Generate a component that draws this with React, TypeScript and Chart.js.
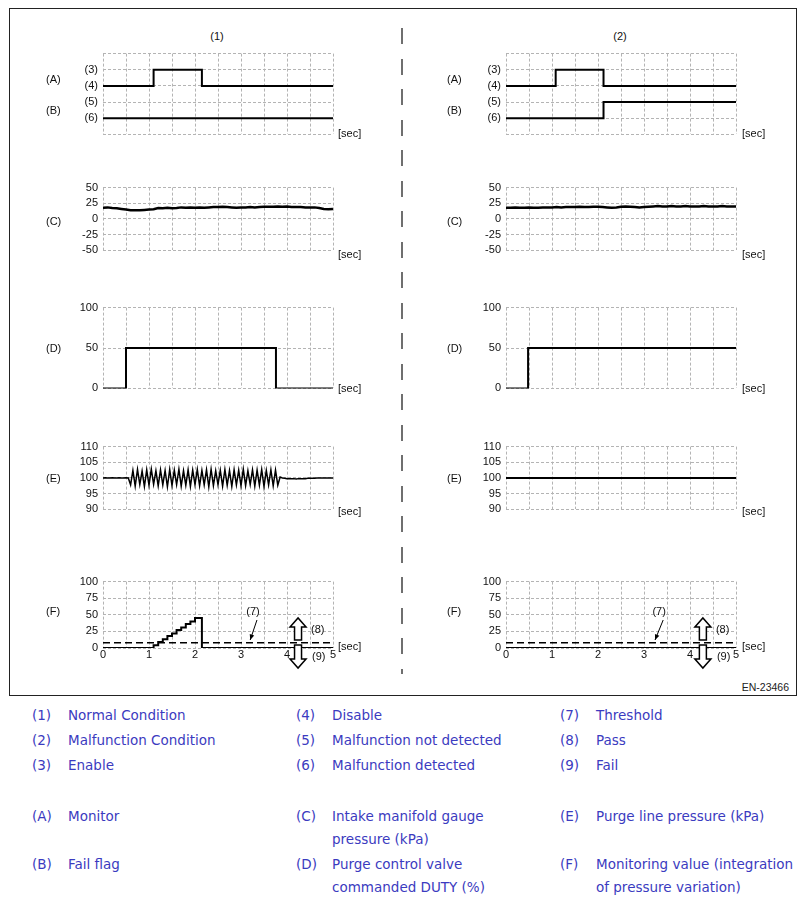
import React, { useEffect, useRef } from 'react';
import { Chart, registerables } from 'chart.js';

Chart.register(...registerables);

// ---------- DATA ----------
const AB_LEVEL_LABELS = ['', '(6)', '(5)', '(4)', '(3)', ''];

// (A) Monitor / (B) Fail flag — time [sec] and level
const L_MONITOR_T = [0, 1.1, 2.15, 5];
const L_MONITOR_V = [3, 4, 3, 3];
const L_FAIL_T = [0, 5];
const L_FAIL_V = [1, 1];
const R_MONITOR_T = [0, 1.08, 2.12, 5];
const R_MONITOR_V = [3, 4, 3, 3];
const R_FAIL_T = [0, 2.12, 5];
const R_FAIL_V = [1, 2, 2];

// (C) Intake manifold gauge pressure (kPa), sampled every 0.1 s
const C_STEP = 0.1;
const L_MANIFOLD = [
  18, 18.5, 17.5, 17, 16, 15, 14, 14, 14, 14.5,
  15, 15.5, 17.5, 17, 18, 17, 17.5, 18.5, 18, 18.5,
  18, 18.5, 18, 18.5, 19, 19, 19.5, 19, 18.5, 18,
  18.5, 18.5, 19, 18.5, 19, 19.5, 19.5, 19.5, 20, 19.5,
  20, 19, 19, 19, 18.5, 18.5, 18.5, 17.5, 16, 15.5, 16,
];
const R_MANIFOLD = [
  18, 18, 18.5, 18, 18, 18.5, 18, 18, 18.5, 18.5,
  18.5, 19, 18.5, 19, 19, 19, 19.5, 19, 19, 19.5,
  19.5, 19, 18.5, 18, 18.5, 19.5, 20, 19.5, 19, 18.5,
  19, 19.5, 20, 20.5, 20, 20, 20.5, 20, 20, 20.5,
  20, 20, 20, 20.5, 20, 20, 20, 20.5, 20, 20, 20,
];

// (D) Purge control valve commanded DUTY (%)
const L_DUTY_T = [0, 0.5, 3.76, 5];
const L_DUTY_V = [0, 50, 0, 0];
const R_DUTY_T = [0, 0.48, 5];
const R_DUTY_V = [0, 50, 50];

// (E) Purge line pressure (kPa), sampled every 0.05 s
const E_STEP = 0.05;
const L_PURGE = [
  100, 100.1, 100, 100, 100.1, 100, 100, 100.1, 100, 100, 100.1, 100,
  97.8, 102.4, 97.4, 102.7, 97.9, 102.2, 97.3, 102.6, 97.7, 102.8,
  98.0, 102.3, 97.5, 102.6, 97.8, 102.4, 97.2, 102.7, 97.6, 102.5,
  97.9, 102.8, 97.4, 102.3, 97.7, 102.6, 97.3, 102.5, 97.9, 102.7,
  97.5, 102.4, 97.8, 102.6, 97.2, 102.8, 97.6, 102.3, 97.9, 102.5,
  97.4, 102.7, 97.7, 102.4, 97.3, 102.6, 97.8, 102.5, 97.5, 102.8,
  97.6, 102.3, 97.9, 102.6, 97.4, 102.5, 97.7, 102.7, 97.3, 102.4,
  97.8, 102.6, 97.5, 102.5, 97.7,
  100.3, 100.0,
  99.9, 99.8, 99.8, 99.8, 99.8, 99.7, 99.8, 99.8, 99.8, 99.8, 99.9,
  99.9, 99.9, 99.9, 100, 100, 100, 100, 100, 100, 100, 100,
];
const R_PURGE_T = [0, 5];
const R_PURGE_V = [100, 100];

// (F) Monitoring value (integration of pressure variation)
const L_MONVAL_T = [0, 1.1, 1.2, 1.3, 1.4, 1.5, 1.6, 1.7, 1.8, 1.9, 2.0, 2.15, 5];
const L_MONVAL_V = [0, 4, 9, 13, 18, 22, 27, 31, 36, 40, 45, 0, 0];
const R_MONVAL_T = [0, 5];
const R_MONVAL_V = [0, 0];
const THRESHOLD = 8;

const X_TICK_LABELS = ['0', '1', '2', '3', '4', '5'];

// ---------- helpers ----------
// step series: value v[i] holds from t[i] until t[i+1]
const steps = (t: number[], v: number[]) => {
  const out: { x: number; y: number }[] = [];
  t.forEach((x, i) => {
    out.push({ x, y: v[i] });
  });
  return out;
};
const pts = (t: number[], v: number[]) => t.map((x, i) => ({ x, y: v[i] }));
const sampled = (step: number, v: number[]) => v.map((y, i) => ({ x: +(i * step).toFixed(3), y }));

const FONT = '"Liberation Sans", Arial, Helvetica, sans-serif';
const YW = 45;
const PT = 10;
const PR = 14;

function line(data: any[], stepped = false, extra: any = {}) {
  return {
    data,
    borderColor: '#000',
    borderWidth: 2,
    pointRadius: 0,
    tension: 0,
    // 'before' in Chart.js: horizontal at previous value, then vertical at the new point
    stepped: stepped ? 'before' : false,
    fill: false,
    ...extra,
  };
}

function hollowArrow(ctx: CanvasRenderingContext2D, cx: number, baseY: number, tipY: number) {
  const dir = tipY < baseY ? -1 : 1;
  const hl = 9, hh = 8, sh = 3.5;
  const hy = tipY - dir * hl;
  ctx.beginPath();
  ctx.moveTo(cx - sh, baseY);
  ctx.lineTo(cx - sh, hy);
  ctx.lineTo(cx - hh, hy);
  ctx.lineTo(cx, tipY);
  ctx.lineTo(cx + hh, hy);
  ctx.lineTo(cx + sh, hy);
  ctx.lineTo(cx + sh, baseY);
  ctx.closePath();
  ctx.fillStyle = '#fff';
  ctx.fill();
  ctx.stroke();
}

function fAnnotations(arrowSec: number, noteSec: number, noteTipSec: number) {
  return {
    id: 'fAnnot',
    afterDraw(chart: any) {
      const { ctx } = chart;
      const x = chart.scales.x;
      const y = chart.scales.y;
      const y0 = y.getPixelForValue(0);
      const cx = x.getPixelForValue(arrowSec);
      ctx.save();
      ctx.lineWidth = 1.5;
      ctx.strokeStyle = '#000';
      hollowArrow(ctx, cx, y0 - 8, y0 - 30);
      hollowArrow(ctx, cx, y0 - 3, y0 + 20);
      ctx.fillStyle = '#111';
      ctx.font = `11px ${FONT}`;
      ctx.textBaseline = 'middle';
      ctx.textAlign = 'left';
      ctx.fillText('(8)', cx + 13, y0 - 18);
      ctx.fillText('(9)', cx + 14, y0 + 9);
      const nx = x.getPixelForValue(noteSec);
      ctx.textAlign = 'center';
      ctx.fillText('(7)', nx, y0 - 36);
      const tx = x.getPixelForValue(noteTipSec);
      const sx = nx + 4, sy = y0 - 28, ex = tx, ey = y0 - 8;
      ctx.lineWidth = 1;
      ctx.beginPath();
      ctx.moveTo(sx, sy);
      ctx.lineTo(ex, ey);
      ctx.stroke();
      const ang = Math.atan2(ey - sy, ex - sx);
      ctx.fillStyle = '#000';
      ctx.beginPath();
      ctx.moveTo(ex, ey);
      ctx.lineTo(ex - 6 * Math.cos(ang - 0.4), ey - 6 * Math.sin(ang - 0.4));
      ctx.lineTo(ex - 6 * Math.cos(ang + 0.4), ey - 6 * Math.sin(ang + 0.4));
      ctx.closePath();
      ctx.fill();
      ctx.restore();
    },
  };
}

type PanelProps = {
  area: [number, number, number, number];
  yMin: number;
  yMax: number;
  yStep: number;
  yLabel?: (v: number) => string;
  xLabels?: boolean;
  datasets: any[];
  plugins?: any[];
};

function Panel({ area, yMin, yMax, yStep, yLabel, xLabels, datasets, plugins }: PanelProps) {
  const ref = useRef<HTMLCanvasElement>(null);
  const [l, t, r, b] = area;
  const XH = xLabels ? 20 : 0;
  const PB = xLabels ? 6 : 10;
  const width = r - l + YW + PR;
  const height = b - t + PT + XH + PB;

  useEffect(() => {
    if (!ref.current) return;
    const chart = new Chart(ref.current, {
      type: 'line',
      data: { datasets },
      options: {
        responsive: false,
        animation: false,
        events: [],
        layout: { padding: { left: 0, top: PT, right: PR, bottom: PB } },
        plugins: { legend: { display: false }, tooltip: { enabled: false } },
        scales: {
          x: {
            type: 'linear',
            min: 0,
            max: 5,
            afterFit: (s: any) => { s.height = XH; },
            grid: { color: '#b4b4b4', lineWidth: 1, drawTicks: false },
            border: { display: false, dash: [3, 2] },
            ticks: {
              display: !!xLabels,
              stepSize: 0.5,
              autoSkip: false,
              maxRotation: 0,
              padding: 0,
              color: '#111',
              font: { family: FONT, size: 11 },
              callback: (v: any) => {
                const n = Number(v);
                return Number.isInteger(n) ? X_TICK_LABELS[n] : '';
              },
            },
          },
          y: {
            type: 'linear',
            min: yMin,
            max: yMax,
            afterFit: (s: any) => { s.width = YW; },
            grid: { color: '#b4b4b4', lineWidth: 1, drawTicks: false },
            border: { display: false, dash: [3, 2] },
            ticks: {
              stepSize: yStep,
              autoSkip: false,
              padding: 5,
              color: '#111',
              font: { family: FONT, size: 11 },
              callback: (v: any) => (yLabel ? yLabel(Number(v)) : String(v)),
            },
          },
        },
      },
      plugins: plugins || [],
    } as any);
    return () => chart.destroy();
  }, []);

  return (
    <canvas
      ref={ref}
      width={width}
      height={height}
      style={{ position: 'absolute', left: l - YW, top: t - PT, width, height }}
    />
  );
}

const txt = (s: string, x: number, y: number, extra: any = {}) => (
  <span
    key={`${s}-${x}-${y}`}
    style={{
      position: 'absolute',
      left: x,
      top: y - 7,
      lineHeight: '14px',
      fontSize: 11,
      fontFamily: FONT,
      color: '#111',
      whiteSpace: 'nowrap',
      ...extra,
    }}
  >
    {s}
  </span>
);

const LEGEND_ROWS: [number, [string, string][]][] = [
  [715, [['(1)', 'Normal Condition'], ['(4)', 'Disable'], ['(7)', 'Threshold']]],
  [740, [['(2)', 'Malfunction Condition'], ['(5)', 'Malfunction not detected'], ['(8)', 'Pass']]],
  [765, [['(3)', 'Enable'], ['(6)', 'Malfunction detected'], ['(9)', 'Fail']]],
  [816, [['(A)', 'Monitor'], ['(C)', 'Intake manifold gauge\npressure (kPa)'], ['(E)', 'Purge line pressure (kPa)']]],
  [864, [['(B)', 'Fail flag'], ['(D)', 'Purge control valve\ncommanded DUTY (%)'], ['(F)', 'Monitoring value (integration\nof pressure variation)']]],
];
const LEGEND_NUM_X = [32, 296, 560];
const LEGEND_TEXT_X = [68, 332, 596];

export default function App() {
  const LX: [number, number] = [103, 333];
  const RX: [number, number] = [506, 736];
  const rows = {
    ab: [52, 136],
    c: [186, 252],
    d: [306, 390],
    e: [445, 511],
    f: [580, 648],
  };
  const A = (x: [number, number], y: number[]): [number, number, number, number] => [x[0], y[0], x[1], y[1]];
  const labY = { a: 79, b: 110, c: 221, d: 348, e: 478, f: 611 };
  const secY = [133, 254, 388, 511, 646];
  const legendColor = '#3b3bc0';

  return (
    <div style={{ position: 'absolute', left: 0, top: 0, width: 805, height: 904, background: '#fff', overflow: 'hidden' }}>
      <div style={{ position: 'absolute', left: 9, top: 8, width: 788, height: 688, border: '1px solid #222', boxSizing: 'border-box' }} />
      <div
        style={{
          position: 'absolute', left: 401, top: 28, width: 2, height: 646,
          background: 'repeating-linear-gradient(to bottom, #6f6f6f 0px, #6f6f6f 16px, transparent 16px, transparent 30.5px)',
        }}
      />
      {txt('(1)', 217, 36, { transform: 'translateX(-50%)' })}
      {txt('(2)', 620, 36, { transform: 'translateX(-50%)' })}

      {/* Left column */}
      <Panel area={A(LX, rows.ab)} yMin={0} yMax={5} yStep={1} yLabel={(v) => AB_LEVEL_LABELS[v] ?? ''}
        datasets={[line(steps(L_MONITOR_T, L_MONITOR_V), true), line(steps(L_FAIL_T, L_FAIL_V), true)]} />
      <Panel area={A(LX, rows.c)} yMin={-50} yMax={50} yStep={25}
        datasets={[line(sampled(C_STEP, L_MANIFOLD), false, { borderWidth: 2.5 })]} />
      <Panel area={A(LX, rows.d)} yMin={0} yMax={100} yStep={50}
        datasets={[line(steps(L_DUTY_T, L_DUTY_V), true)]} />
      <Panel area={A(LX, rows.e)} yMin={90} yMax={110} yStep={5}
        datasets={[line(sampled(E_STEP, L_PURGE), false, { borderWidth: 1.5 })]} />
      <Panel area={A(LX, rows.f)} yMin={0} yMax={100} yStep={25} xLabels
        datasets={[
          line(pts([0, 5], [THRESHOLD, THRESHOLD]), false, { borderWidth: 1.5, borderDash: [7, 4] }),
          line(steps(L_MONVAL_T, L_MONVAL_V), true),
        ]}
        plugins={[fAnnotations(4.24, 3.26, 3.2)]} />

      {/* Right column */}
      <Panel area={A(RX, rows.ab)} yMin={0} yMax={5} yStep={1} yLabel={(v) => AB_LEVEL_LABELS[v] ?? ''}
        datasets={[line(steps(R_MONITOR_T, R_MONITOR_V), true), line(steps(R_FAIL_T, R_FAIL_V), true)]} />
      <Panel area={A(RX, rows.c)} yMin={-50} yMax={50} yStep={25}
        datasets={[line(sampled(C_STEP, R_MANIFOLD), false, { borderWidth: 2.5 })]} />
      <Panel area={A(RX, rows.d)} yMin={0} yMax={100} yStep={50}
        datasets={[line(steps(R_DUTY_T, R_DUTY_V), true)]} />
      <Panel area={A(RX, rows.e)} yMin={90} yMax={110} yStep={5}
        datasets={[line(pts(R_PURGE_T, R_PURGE_V))]} />
      <Panel area={A(RX, rows.f)} yMin={0} yMax={100} yStep={25} xLabels
        datasets={[
          line(pts([0, 5], [THRESHOLD, THRESHOLD]), false, { borderWidth: 1.5, borderDash: [7, 4] }),
          line(steps(R_MONVAL_T, R_MONVAL_V), true),
        ]}
        plugins={[fAnnotations(4.28, 3.33, 3.24)]} />

      {/* side labels */}
      {[46, 447].map((x) => (
        <React.Fragment key={x}>
          {txt('(A)', x, labY.a)}
          {txt('(B)', x, labY.b)}
          {txt('(C)', x, labY.c)}
          {txt('(D)', x, labY.d)}
          {txt('(E)', x, labY.e)}
          {txt('(F)', x, labY.f)}
        </React.Fragment>
      ))}
      {[338, 742].map((x) => (
        <React.Fragment key={`s${x}`}>
          {secY.map((y) => txt('[sec]', x, y))}
        </React.Fragment>
      ))}
      {txt('EN-23466', 789, 687, { transform: 'translateX(-100%)', fontSize: 10.5, color: '#222' })}

      {/* legend */}
      {LEGEND_ROWS.map(([y, items]) =>
        items.map(([num, text], ci) => (
          <React.Fragment key={`${num}`}>
            <span style={{ position: 'absolute', left: LEGEND_NUM_X[ci], top: y - 11.5, lineHeight: '23px', fontSize: 13.5, fontFamily: '"DejaVu Sans", Verdana, sans-serif', color: legendColor, whiteSpace: 'nowrap' }}>{num}</span>
            <span style={{ position: 'absolute', left: LEGEND_TEXT_X[ci], top: y - 11.5, lineHeight: '23px', fontSize: 13.5, fontFamily: '"DejaVu Sans", Verdana, sans-serif', color: legendColor, whiteSpace: 'pre' }}>{text}</span>
          </React.Fragment>
        ))
      )}
    </div>
  );
}
